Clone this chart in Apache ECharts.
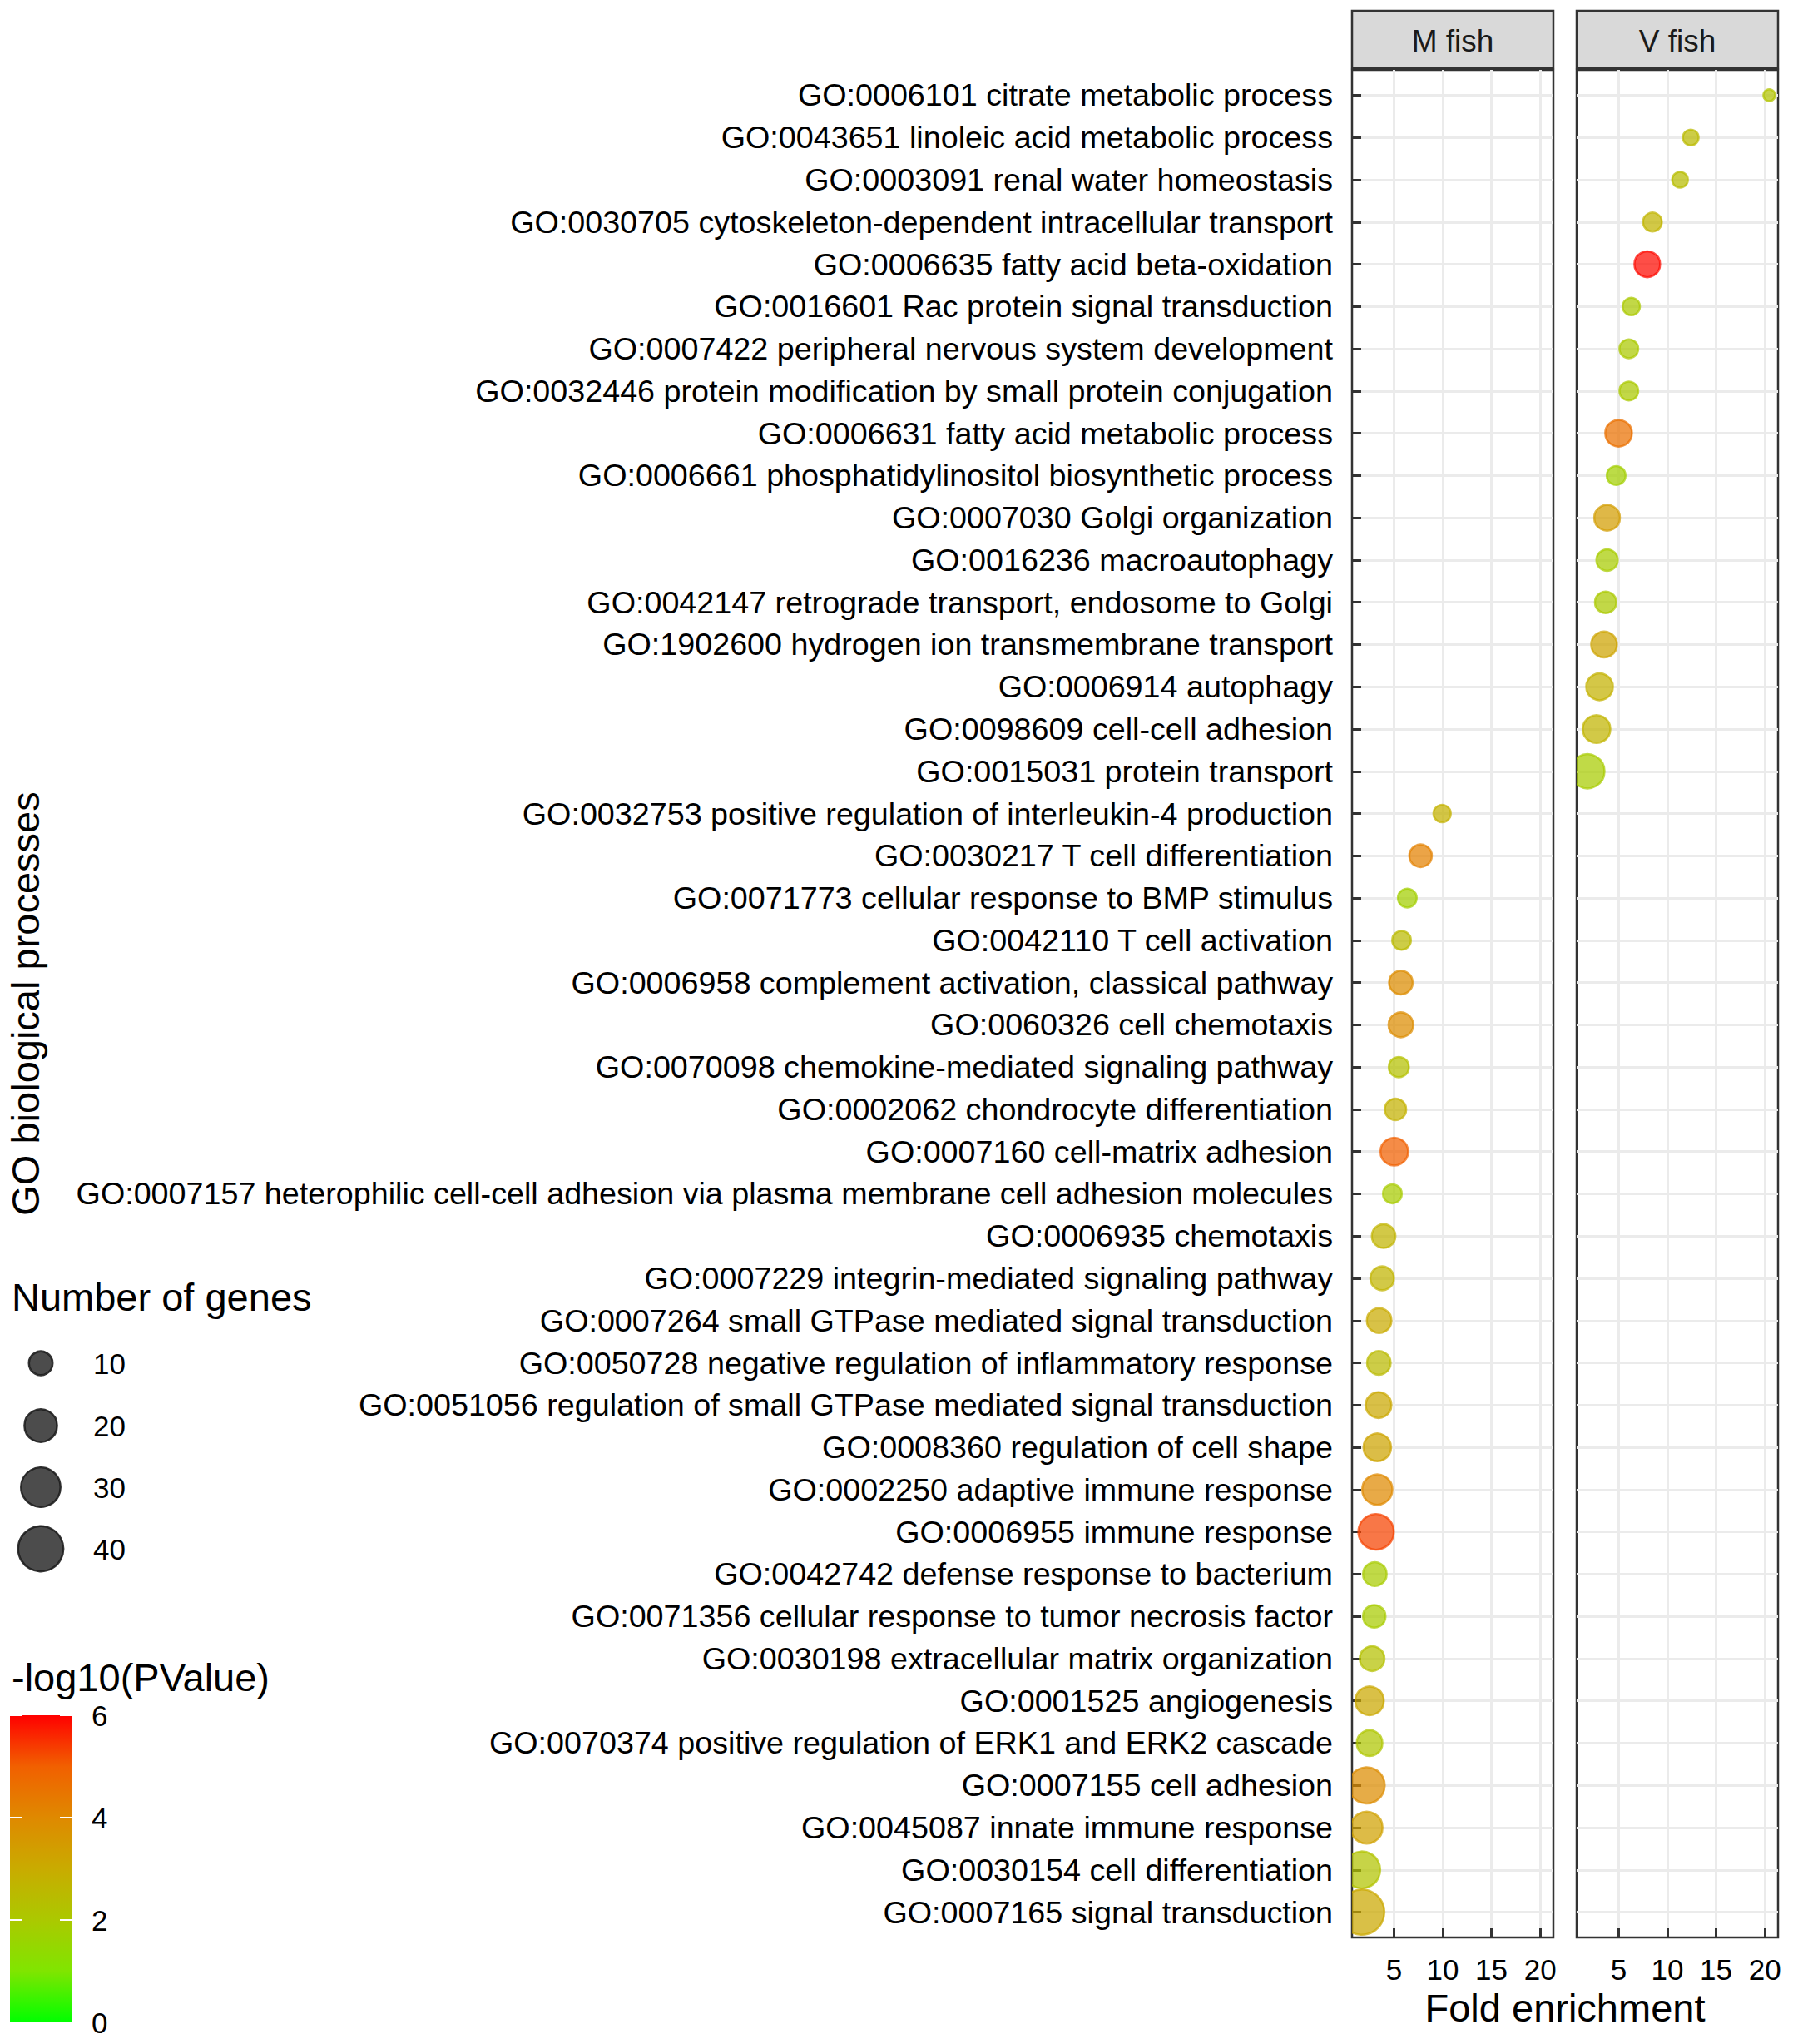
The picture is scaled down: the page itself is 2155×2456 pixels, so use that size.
<!DOCTYPE html>
<html>
<head>
<meta charset="utf-8">
<script src="https://cdn.jsdelivr.net/npm/echarts@6/dist/echarts.min.js"></script>
<style>
html,body{margin:0;padding:0;background:#fff;}
#chart{width:2155px;height:2456px;}
</style>
</head>
<body>
<div id="chart"></div>
<script>
// ---------------- data ----------------
const vFishTerms = [
  "GO:0006101 citrate metabolic process",
  "GO:0043651 linoleic acid metabolic process",
  "GO:0003091 renal water homeostasis",
  "GO:0030705 cytoskeleton-dependent intracellular transport",
  "GO:0006635 fatty acid beta-oxidation",
  "GO:0016601 Rac protein signal transduction",
  "GO:0007422 peripheral nervous system development",
  "GO:0032446 protein modification by small protein conjugation",
  "GO:0006631 fatty acid metabolic process",
  "GO:0006661 phosphatidylinositol biosynthetic process",
  "GO:0007030 Golgi organization",
  "GO:0016236 macroautophagy",
  "GO:0042147 retrograde transport, endosome to Golgi",
  "GO:1902600 hydrogen ion transmembrane transport",
  "GO:0006914 autophagy",
  "GO:0098609 cell-cell adhesion",
  "GO:0015031 protein transport"
];
const vFishFold  = [20.45, 12.4, 11.3, 8.47, 7.94, 6.3, 6.05, 6.05, 5.0, 4.75, 3.82, 3.82, 3.67, 3.51, 3.05, 2.74, 1.81];
const vFishGenes = [2, 4, 4, 6, 12, 5, 6, 6, 13, 6, 12, 8, 8, 12, 13, 14, 22];
const vFishLogP  = [2.2, 2.5, 2.4, 2.7, 5.9, 2.0, 2.0, 2.0, 4.6, 1.8, 3.4, 1.9, 2.0, 3.2, 2.8, 2.7, 1.9];

const mFishTerms = [
  "GO:0032753 positive regulation of interleukin-4 production",
  "GO:0030217 T cell differentiation",
  "GO:0071773 cellular response to BMP stimulus",
  "GO:0042110 T cell activation",
  "GO:0006958 complement activation, classical pathway",
  "GO:0060326 cell chemotaxis",
  "GO:0070098 chemokine-mediated signaling pathway",
  "GO:0002062 chondrocyte differentiation",
  "GO:0007160 cell-matrix adhesion",
  "GO:0007157 heterophilic cell-cell adhesion via plasma membrane cell adhesion molecules",
  "GO:0006935 chemotaxis",
  "GO:0007229 integrin-mediated signaling pathway",
  "GO:0007264 small GTPase mediated signal transduction",
  "GO:0050728 negative regulation of inflammatory response",
  "GO:0051056 regulation of small GTPase mediated signal transduction",
  "GO:0008360 regulation of cell shape",
  "GO:0002250 adaptive immune response",
  "GO:0006955 immune response",
  "GO:0042742 defense response to bacterium",
  "GO:0071356 cellular response to tumor necrosis factor",
  "GO:0030198 extracellular matrix organization",
  "GO:0001525 angiogenesis",
  "GO:0070374 positive regulation of ERK1 and ERK2 cascade",
  "GO:0007155 cell adhesion",
  "GO:0045087 innate immune response",
  "GO:0030154 cell differentiation",
  "GO:0007165 signal transduction"
];
const mFishFold  = [9.94, 7.73, 6.37, 5.78, 5.71, 5.71, 5.5, 5.16, 5.03, 4.84, 3.94, 3.79, 3.48, 3.45, 3.42, 3.29, 3.29, 3.17, 3.04, 2.98, 2.76, 2.5, 2.5, 2.2, 2.2, 1.7, 1.7];
const mFishGenes = [5, 9, 6, 6, 10, 11, 7, 8, 14, 6, 10, 10, 11, 10, 12, 14, 17, 24, 10, 9, 11, 15, 12, 25, 19, 26, 40];
const mFishLogP  = [2.8, 4.2, 1.8, 2.5, 3.9, 3.9, 2.3, 2.8, 5.0, 1.9, 2.7, 2.7, 3.0, 2.5, 3.1, 3.2, 4.0, 5.3, 1.9, 1.9, 2.3, 3.1, 2.1, 3.9, 3.3, 2.2, 3.1];

const categories = vFishTerms.concat(mFishTerms);
const panelNames = ["M fish", "V fish"];
const xTicks = [5, 10, 15, 20];
const sizeLegendValues = [10, 20, 30, 40];
const colorLegendTicks = [0, 2, 4, 6];
// green -> red gradient (Lab-interpolated stops at 0,1,...,6)
const colorStops = ['#00FF00', '#80E500', '#ABC900', '#C9AB00', '#DF8900', '#F16000', '#FF0000'];

// ---------------- layout ----------------
const FONT = '"Liberation Sans", Arial, Helvetica, sans-serif';
const PANEL_TOP = 84, PANEL_BOTTOM = 2328, PANEL_W = 242;
const PANEL_LEFTS = [1625, 1895];
const PANEL_H = PANEL_BOTTOM - PANEL_TOP;
const X_MIN = 0.7, X_MAX = 21.35;
const Y_MIN = 0.4, Y_MAX = categories.length + 0.6;
const rowValues = categories.map((c, i) => i + 1);

function sizeOf(n) { return 4.5 + 8.2 * Math.sqrt(n); }

function buildData(terms, fold, genes, logp) {
  return terms.map((t, i) => [fold[i], categories.indexOf(t) + 1, genes[i], logp[i]]);
}
const mData = buildData(mFishTerms, mFishFold, mFishGenes, mFishLogP);
const vData = buildData(vFishTerms, vFishFold, vFishGenes, vFishLogP);

function renderPoint(params, api) {
  const pt = api.coord([api.value(0), api.value(1)]);
  const d = sizeOf(api.value(2));
  const c = api.visual('color');
  const col = echarts.color.modifyAlpha(c, 0.72);
  return {
    type: 'circle',
    shape: { cx: pt[0], cy: pt[1], r: d / 2 - 1 },
    style: { fill: col, stroke: col, lineWidth: 2.5 }
  };
}

const grids = PANEL_LEFTS.map(l => ({
  left: l, top: PANEL_TOP, width: PANEL_W, height: PANEL_H,
  show: true, backgroundColor: '#ffffff', borderColor: '#333333', borderWidth: 2.5,
  containLabel: false
}));

const xAxes = PANEL_LEFTS.map((l, gi) => ({
  type: 'value', gridIndex: gi, min: X_MIN, max: X_MAX,
  axisLine: { show: false },
  axisTick: { show: true, inside: true, length: 11, customValues: xTicks, lineStyle: { color: '#333333', width: 3 } },
  axisLabel: { show: true, customValues: xTicks, fontSize: 35, color: '#000000', margin: 21, fontFamily: FONT },
  splitLine: { show: true, lineStyle: { color: '#EBEBEB', width: 3 } }
}));

const yAxes = PANEL_LEFTS.map((l, gi) => ({
  type: 'value', gridIndex: gi, inverse: true, min: Y_MIN, max: Y_MAX,
  axisLine: { show: false },
  axisTick: { show: gi === 0, inside: true, length: 11, customValues: rowValues, lineStyle: { color: '#333333', width: 3 } },
  axisLabel: {
    show: gi === 0, customValues: rowValues, fontSize: 37.7, color: '#000000', margin: 23, fontFamily: FONT,
    formatter: v => categories[Math.round(v) - 1] || ''
  },
  splitLine: { show: true, lineStyle: { color: '#EBEBEB', width: 3 } }
}));

// ---------------- graphics: strips, titles, legends ----------------
const graphics = [];
PANEL_LEFTS.forEach((l, i) => {
  graphics.push({
    type: 'rect', shape: { x: l, y: 13, width: PANEL_W, height: 69 },
    style: { fill: '#D9D9D9', stroke: '#333333', lineWidth: 2.5 }, z: 10
  });
  graphics.push({
    type: 'text', x: l + PANEL_W / 2, y: 49, z: 11,
    style: { text: panelNames[i], fontSize: 37, fontFamily: FONT, fill: '#1a1a1a',
             align: 'center', verticalAlign: 'middle', textAlign: 'center', textVerticalAlign: 'middle' }
  });
});
// axis titles
graphics.push({
  type: 'text', x: (PANEL_LEFTS[0] + PANEL_LEFTS[1] + PANEL_W) / 2, y: 2412, z: 11,
  style: { text: 'Fold enrichment', fontSize: 47, fontFamily: FONT, fill: '#000000',
           align: 'center', verticalAlign: 'middle', textAlign: 'center', textVerticalAlign: 'middle' }
});
graphics.push({
  type: 'text', x: 30, y: (PANEL_TOP + PANEL_BOTTOM) / 2, rotation: Math.PI / 2, z: 11,
  style: { text: 'GO biological processes', fontSize: 47, fontFamily: FONT, fill: '#000000',
           align: 'center', verticalAlign: 'middle', textAlign: 'center', textVerticalAlign: 'middle' }
});
// size legend
graphics.push({
  type: 'text', x: 14, y: 1558, z: 11,
  style: { text: 'Number of genes', fontSize: 47, fontFamily: FONT, fill: '#000000',
           align: 'left', verticalAlign: 'middle', textAlign: 'left', textVerticalAlign: 'middle' }
});
const sizeLegendY = [1638, 1713, 1787, 1861];
sizeLegendValues.forEach((v, i) => {
  graphics.push({
    type: 'circle', shape: { cx: 49, cy: sizeLegendY[i], r: sizeOf(v) / 2 - 1 }, z: 11,
    style: { fill: 'rgba(51,51,51,0.88)', stroke: 'rgba(30,30,30,0.9)', lineWidth: 2.5 }
  });
  graphics.push({
    type: 'text', x: 112, y: sizeLegendY[i], z: 11,
    style: { text: String(v), fontSize: 35, fontFamily: FONT, fill: '#000000',
             align: 'left', verticalAlign: 'middle', textAlign: 'left', textVerticalAlign: 'middle' }
  });
});
// colour legend
const CB_TOP = 2061, CB_BOTTOM = 2430, CB_LEFT = 12, CB_W = 74;
graphics.push({
  type: 'text', x: 14, y: 2015, z: 11,
  style: { text: '-log10(PValue)', fontSize: 47, fontFamily: FONT, fill: '#000000',
           align: 'left', verticalAlign: 'middle', textAlign: 'left', textVerticalAlign: 'middle' }
});
graphics.push({
  type: 'rect', shape: { x: CB_LEFT, y: CB_TOP, width: CB_W, height: CB_BOTTOM - CB_TOP }, z: 11,
  style: {
    fill: {
      type: 'linear', x: 0, y: 0, x2: 0, y2: 1,
      colorStops: colorStops.slice().reverse().map((c, i, a) => ({ offset: i / (a.length - 1), color: c }))
    }
  }
});
colorLegendTicks.forEach(v => {
  const y = CB_BOTTOM - (v / 6) * (CB_BOTTOM - CB_TOP);
  if (v > 0) {
    graphics.push({ type: 'line', z: 12, shape: { x1: CB_LEFT, y1: y, x2: CB_LEFT + 14, y2: y }, style: { stroke: '#ffffff', lineWidth: 2 } });
    graphics.push({ type: 'line', z: 12, shape: { x1: CB_LEFT + CB_W - 14, y1: y, x2: CB_LEFT + CB_W, y2: y }, style: { stroke: '#ffffff', lineWidth: 2 } });
  }
  graphics.push({
    type: 'text', x: 110, y: y, z: 11,
    style: { text: String(v), fontSize: 35, fontFamily: FONT, fill: '#000000',
             align: 'left', verticalAlign: 'middle', textAlign: 'left', textVerticalAlign: 'middle' }
  });
});

const chart = echarts.init(document.getElementById('chart'), null, { renderer: 'svg', width: 2155, height: 2456 });
chart.setOption({
  backgroundColor: '#ffffff',
  animation: false,
  textStyle: { fontFamily: FONT },
  grid: grids,
  xAxis: xAxes,
  yAxis: yAxes,
  visualMap: {
    type: 'continuous', show: false, min: 0, max: 6, dimension: 3, seriesIndex: [0, 1],
    inRange: { color: colorStops }
  },
  series: [
    { type: 'custom', name: panelNames[0], xAxisIndex: 0, yAxisIndex: 0, clip: true,
      data: mData, encode: { x: 0, y: 1 }, renderItem: renderPoint, z: 5 },
    { type: 'custom', name: panelNames[1], xAxisIndex: 1, yAxisIndex: 1, clip: true,
      data: vData, encode: { x: 0, y: 1 }, renderItem: renderPoint, z: 5 }
  ],
  graphic: graphics
});
</script>
</body>
</html>
